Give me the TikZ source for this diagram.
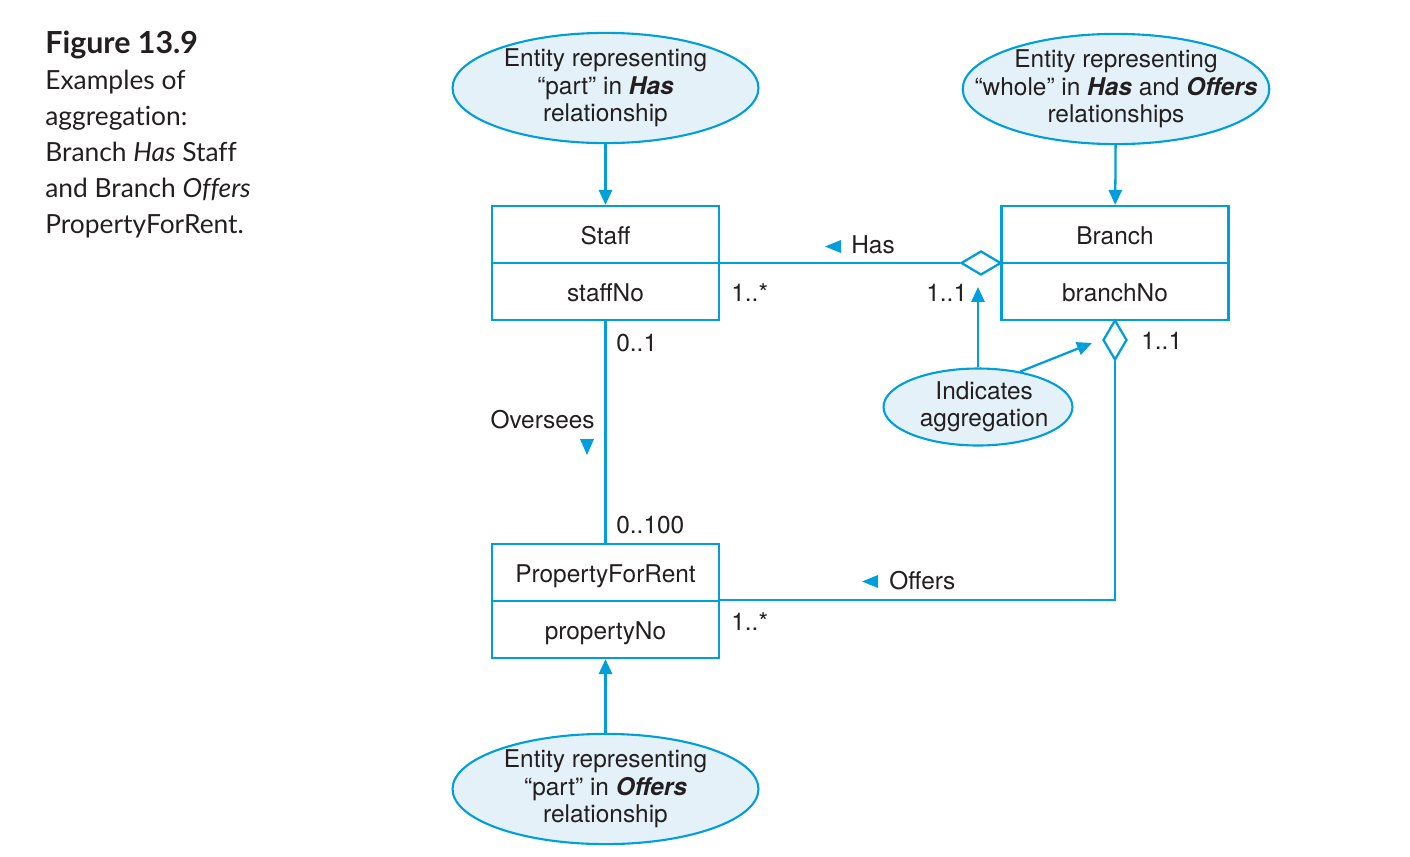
\documentclass[tikz,border=0pt]{standalone}
\usepackage{fontspec}
\setmainfont{TeX Gyre Heros}
\newfontfamily\capfont[Ligatures=NoCommon]{Lato}
\usetikzlibrary{shapes.geometric,arrows.meta}
\definecolor{umlblue}{RGB}{0,158,219}
\definecolor{notefill}{RGB}{228,241,249}
\definecolor{inkgray}{RGB}{35,31,32}

\tikzset{
  every node/.style={text=inkgray, font=\fontsize{13.9}{15.6}\selectfont},
  clsbox/.style={draw=umlblue, line width=1.3pt, minimum width=4.54cm, minimum height=1.14cm, inner sep=0pt, text height=12pt, text depth=1pt},
  note/.style={ellipse, draw=umlblue, fill=notefill, line width=1.2pt, align=center, inner sep=0pt, minimum width=6.12cm, minimum height=2cm},
  link/.style={umlblue, line width=1.3pt},
  tip/.style={link, -{Triangle[length=8.5pt,width=7.5pt]}},
  aggmark/.style={diamond, draw=umlblue, fill=white, line width=1.3pt, inner sep=0pt},
  mult/.style={inner sep=0pt}
}

\begin{document}
\begin{tikzpicture}[x=0.02cm, y=-0.02cm]
  \useasboundingbox (0,0) rectangle (1410,856);

  % caption
  \node[anchor=north west, align=left, inner sep=0pt, font=\capfont\fontsize{15}{20.4}\selectfont] (caption) at (45,31)
    {{\fontsize{17.3}{20.4}\selectfont\textbf{Figure 13.9}}\\Examples of\\aggregation:\\Branch \textit{Has} Staff\\and Branch \textit{Offers}\\PropertyForRent.};

  % classes
  \node[clsbox] (staffT) at (605.5,234.5) {Staff};
  \node[clsbox] (staffA) at (605.5,291.5) {staffNo};
  \node[clsbox] (branchT) at (1115,234.5) {Branch};
  \node[clsbox] (branchA) at (1115,291.5) {branchNo};
  \node[clsbox] (pfrT) at (605.5,572.5) {PropertyForRent};
  \node[clsbox] (pfrA) at (605.5,629.5) {propertyNo};

  % notes
  \node[note] (hasPart) at (605.5,88) {Entity representing\\“part” in \textbf{\textit{Has}}\\relationship};
  \node[note, inner xsep=-0.66cm] (hasWhole) at (1116,89) {Entity representing\\“whole” in \textbf{\textit{Has}} and \textbf{\textit{Offers}}\\relationships};
  \node[note] (offPart) at (605.5,789) {Entity representing\\“part” in \textbf{\textit{Offers}}\\relationship};
  \node[note, inner xsep=-0.3cm, minimum width=3.78cm, minimum height=1.54cm] (aggNote) at (978,407) {\hspace*{7pt}Indicates\\\hspace*{7pt}aggregation};

  % aggregation diamonds
  \node[aggmark, minimum width=0.8cm, minimum height=0.48cm] (hasD) at (981,263) {};
  \node[aggmark, minimum width=0.48cm, minimum height=0.8cm] (offD) at (1115,340) {};

  % associations
  \draw[link] (hasD.west) -- (hasD.west -| staffA.east);
  \draw[link] (staffA) -- (pfrT);
  \draw[link] (offD.south) |- (pfrA.north east);

  % note arrows
  \draw[tip] (hasPart) -- (staffT);
  \draw[tip] (hasWhole) -- (branchT);
  \draw[tip] (offPart) -- (pfrA);
  \coordinate (hasTip) at (978,287);
  \coordinate (offTip) at (1092,343);
  \draw[tip] (aggNote) -- (hasTip);
  \draw[tip] (aggNote.40) -- (offTip);

  % labels
  \node[mult, anchor=west] (hasLbl) at (851,245) {Has};
  \fill[umlblue] (825,246.5) -- (841,240) -- (841,253) -- cycle;
  \node[mult, anchor=west] (offLbl) at (889,581) {Offers};
  \fill[umlblue] (862,581.5) -- (878,575) -- (878,588) -- cycle;
  \node[mult, anchor=east] (ovLbl) at (595,420) {Oversees};
  \fill[umlblue] (580,439) -- (594,439) -- (587,455) -- cycle;

  \node[mult, anchor=west] (m1) at (731,293) {1..*};
  \node[mult, anchor=west] (m2) at (926,293) {1..1};
  \node[mult, anchor=west] (m3) at (616,343) {0..1};
  \node[mult, anchor=west] (m4) at (616,525) {0..100};
  \node[mult, anchor=west] (m5) at (731,622) {1..*};
  \node[mult, anchor=west] (m6) at (1141,341) {1..1};
\end{tikzpicture}
\end{document}
